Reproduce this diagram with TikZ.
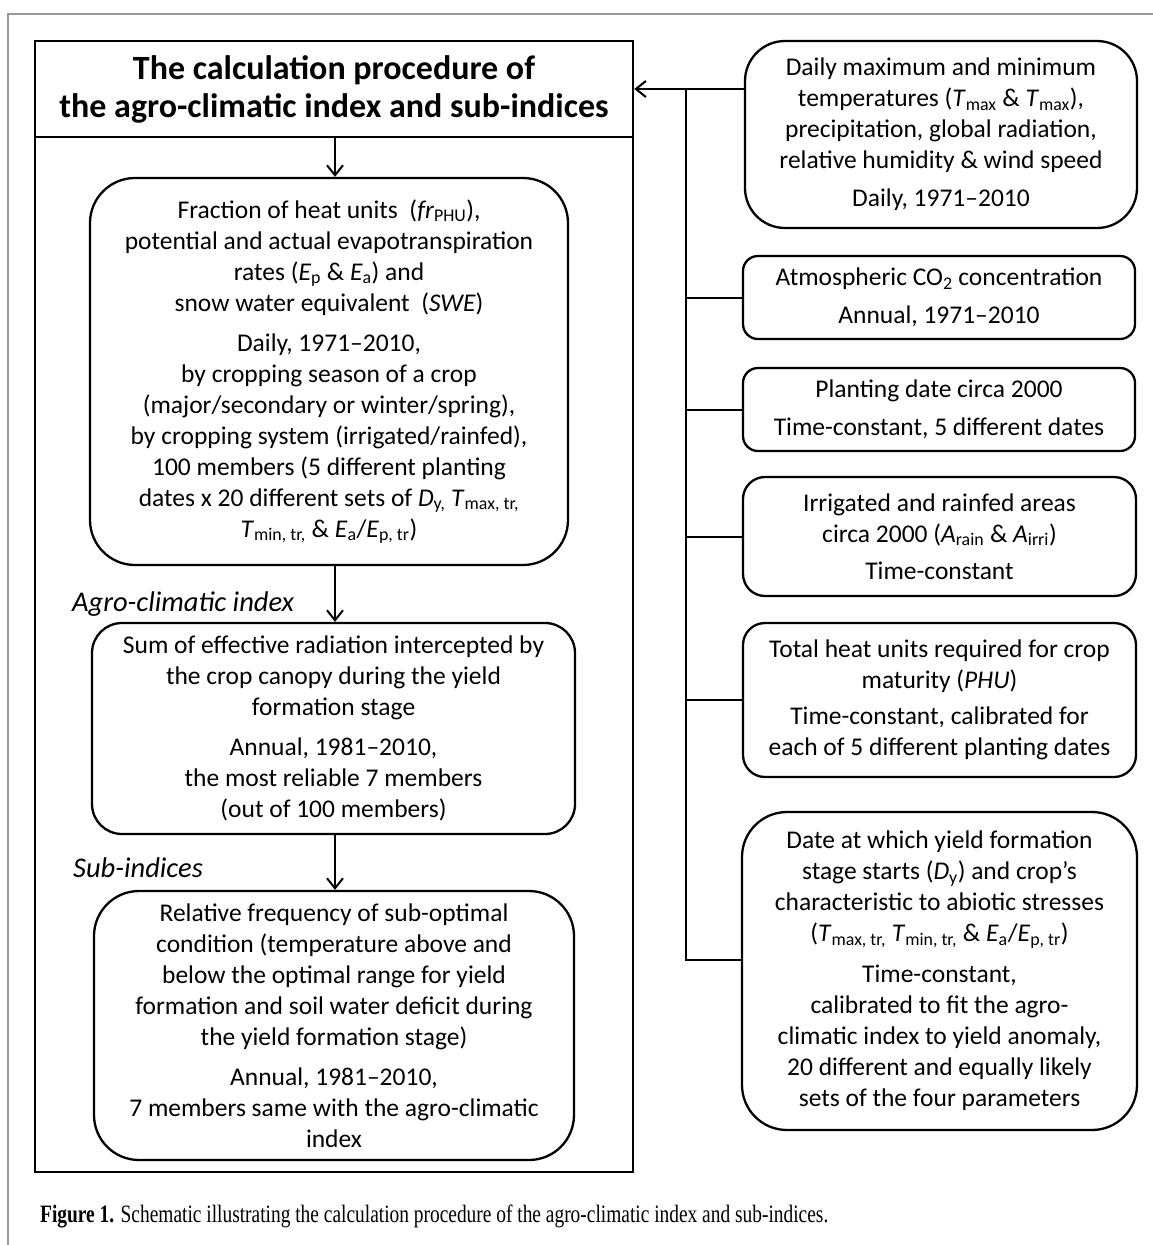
\documentclass[tikz,border=0pt]{standalone}
\usepackage{fontspec}
\usepackage{graphicx}
\setmainfont{Carlito}
\newfontfamily\capfont{Liberation Serif}
\usetikzlibrary{arrows.meta}
\tikzset{
  bodyfont/.style={font=\fontsize{25.5}{31}\selectfont},
  rbox/.style={draw, line width=2.3pt, rounded corners=#1, align=center, inner sep=0pt, bodyfont},
  sqbox/.style={draw, line width=2.6pt, inner sep=0pt},
  conn/.style={line width=2pt},
  arr/.style={line width=2pt, -{Straight Barb[length=10pt,width=16pt,line width=2pt]}},
  lbl/.style={font=\fontsize{28.5}{32}\selectfont\itshape, inner sep=0pt, anchor=base west},
}
\begin{document}
\begin{tikzpicture}[x=1pt,y=-1pt]
\useasboundingbox (0,0) rectangle (1153,1245);
\draw[black!40, line width=1.5pt] (1153,14) -- (8,14) -- (8,1245);

% left outer frame and title
\node[sqbox, minimum width=598pt, minimum height=1131pt] (outer) at (334,606.5) {};
\node[sqbox, minimum width=598pt, minimum height=96pt, align=center,
      font=\fontsize{34}{38}\selectfont\bfseries] (title) at (334,89)
  {The calculation procedure of\\ the agro-climatic index and sub-indices};

% inner left boxes
\node[rbox=45pt, minimum width=478pt, minimum height=387pt] (F) at (329,371.5)
 {Fraction of heat units~ (\textit{fr}\textsubscript{PHU}),\\
  potential and actual evapotranspiration\\
  rates (\textit{E}\textsubscript{p} \& \textit{E}\textsubscript{a}) and\\
  snow water equivalent~ (\textit{SWE})\\[9pt]
  Daily, 1971–2010,\\
  by cropping season of a crop\\
  (major/secondary or winter/spring),\\
  by cropping system (irrigated/rainfed),\\
  100 members (5 different planting\\
  dates x 20 different sets of \textit{D}\textsubscript{y,} \textit{T}\textsubscript{max, tr,}\\
  \textit{T}\textsubscript{min, tr,} \& \textit{E}\textsubscript{a}/\textit{E}\textsubscript{p, tr})};

\node[rbox=30pt, minimum width=483pt, minimum height=211pt] (G) at (333.5,728.5)
 {Sum of effective radiation intercepted by\\
  the crop canopy during the yield\\
  formation stage\\[9pt]
  Annual, 1981–2010,\\
  the most reliable 7 members\\
  (out of 100 members)};

\node[rbox=45pt, minimum width=480pt, minimum height=269pt] (H) at (334,1025.5)
 {Relative frequency of sub-optimal\\
  condition (temperature above and\\
  below the optimal range for yield\\
  formation and soil water deficit during\\
  the yield formation stage)\\[9pt]
  Annual, 1981–2010,\\
  7 members same with the agro-climatic\\
  index};

\node[lbl] (lagro) at (72,611) {Agro-climatic index};
\node[lbl] (lsub) at (73,877) {Sub-indices};

% right boxes
\node[rbox=40pt, minimum width=392pt, minimum height=187pt] (A) at (941,134.5)
 {Daily maximum and minimum\\
  temperatures (\textit{T}\textsubscript{max} \& \textit{T}\textsubscript{max}),\\
  precipitation, global radiation,\\
  relative humidity \& wind speed\\[7pt]
  Daily, 1971–2010};

\node[rbox=15pt, minimum width=392pt, minimum height=83pt] (B) at (939,297.5)
 {Atmospheric CO\textsubscript{2} concentration\\[7pt]
  Annual, 1971–2010};

\node[rbox=15pt, minimum width=392pt, minimum height=83pt] (C) at (939,409.5)
 {Planting date circa 2000\\[7pt]
  Time-constant, 5 different dates};

\node[rbox=22pt, minimum width=393pt, minimum height=119pt] (D) at (939.5,536.5)
 {Irrigated and rainfed areas\\
  circa 2000 (\textit{A}\textsubscript{rain} \& \textit{A}\textsubscript{irri})\\[6pt]
  Time-constant};

\node[rbox=22pt, minimum width=393pt, minimum height=154pt] (E) at (939.5,700)
 {Total heat units required for crop\\
  maturity (\textit{PHU})\\[5pt]
  Time-constant, calibrated for\\
  each of 5 different planting dates};

\node[rbox=45pt, minimum width=395pt, minimum height=318pt] (Dt) at (939.5,971)
 {Date at which yield formation\\
  stage starts (\textit{D}\textsubscript{y}) and crop’s\\
  characteristic to abiotic stresses\\
  (\textit{T}\textsubscript{max, tr,} \textit{T}\textsubscript{min, tr,} \& \textit{E}\textsubscript{a}/\textit{E}\textsubscript{p, tr})\\[10pt]
  Time-constant,\\
  calibrated to fit the agro-\\
  climatic index to yield anomaly,\\
  20 different and equally likely\\
  sets of the four parameters};

% connectors
\coordinate (j) at (686,89);
\coordinate (jd) at (686,960);
\draw[arr] (A.west |- j) -- (outer.east |- j);
\draw[conn] (j) -- (jd) -- (jd -| Dt.west);
\draw[conn] (j |- B.west) -- (B.west);
\draw[conn] (j |- C.west) -- (C.west);
\draw[conn] (j |- D.west) -- (D.west);
\draw[conn] (j |- E.west) -- (E.west);

\coordinate (ax) at (335,0);
\draw[arr] (ax |- title.south) -- (ax |- F.north);
\draw[arr] (ax |- F.south) -- (ax |- G.north);
\draw[arr] (ax |- G.south) -- (ax |- H.north);

% caption
\node[anchor=base west, inner sep=0pt] (cap) at (40,1222)
 {\resizebox{788pt}{\height}{\capfont\fontsize{25}{28}\selectfont\textbf{Figure 1.} Schematic illustrating the calculation procedure of the agro-climatic index and sub-indices.}};
\end{tikzpicture}
\end{document}
